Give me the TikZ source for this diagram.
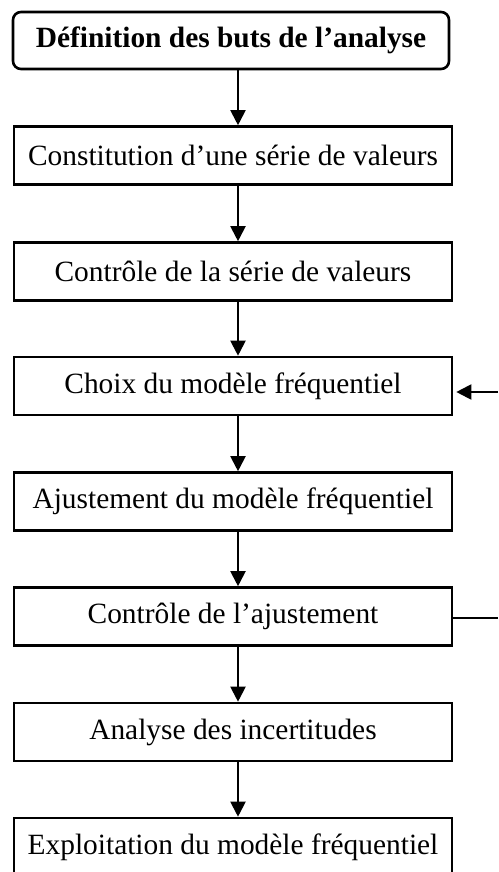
\documentclass[tikz,border=0pt]{standalone}
\usepackage{fontspec}
\setmainfont{Liberation Serif}
\usetikzlibrary{arrows.meta}
\tikzset{
    etape/.style={draw, line width=1.3pt, minimum width=219pt, minimum height=29pt, inner sep=0pt, font=\fontsize{14.7}{16}\selectfont},
    debut/.style={etape, rounded corners=4pt, minimum width=218pt, minimum height=28.5pt, font=\fontsize{14.7}{16}\selectfont\bfseries},
    fleche/.style={line width=1pt, -{Triangle[width=7.5pt,length=7.5pt]}}
}
\begin{document}
\begin{tikzpicture}[x=0.5pt, y=-0.5pt]
    \useasboundingbox (0,0) rectangle (498,872);
    \clip (0,0) rectangle (498,872);
    \node[debut] (buts) at (231,40.5) {Définition des buts de l’analyse};
    \node[etape] (serie) at (233,155.5) {Constitution d’une série de valeurs};
    \node[etape] (ctrlserie) at (233,271.5) {Contrôle de la série de valeurs};
    \node[etape] (choix) at (233,386) {Choix du modèle fréquentiel};
    \node[etape] (ajust) at (233,501.5) {Ajustement du modèle fréquentiel};
    \node[etape] (ctrlajust) at (233,616.5) {Contrôle de l’ajustement};
    \node[etape] (incert) at (233,732) {Analyse des incertitudes};
    \node[etape] (exploit) at (233,847) {Exploitation du modèle fréquentiel};
    % retour vers le choix du modele
    \coordinate (retdep) at (498,618);
    \coordinate (retarr) at (498,392);
    \draw[fleche] ([xshift=3.5pt]buts.south) -- ([xshift=2.5pt]serie.north);
    \draw[fleche] ([xshift=2.5pt]serie.south) -- ([xshift=2.5pt]ctrlserie.north);
    \draw[fleche] ([xshift=2.5pt]ctrlserie.south) -- ([xshift=2.5pt]choix.north);
    \draw[fleche] ([xshift=2.5pt]choix.south) -- ([xshift=2.5pt]ajust.north);
    \draw[fleche] ([xshift=2.5pt]ajust.south) -- ([xshift=2.5pt]ctrlajust.north);
    \draw[fleche] ([xshift=2.5pt]ctrlajust.south) -- ([xshift=2.5pt]incert.north);
    \draw[fleche] ([xshift=2.5pt]incert.south) -- ([xshift=2.5pt]exploit.north);
    \draw[line width=0.6pt] (ctrlajust.east |- retdep) -- (retdep);
    \draw[line width=1pt, -{Triangle[width=7.5pt,length=7.5pt]}] (retarr) -- ([xshift=1.5pt]choix.east |- retarr);
\end{tikzpicture}
\end{document}
